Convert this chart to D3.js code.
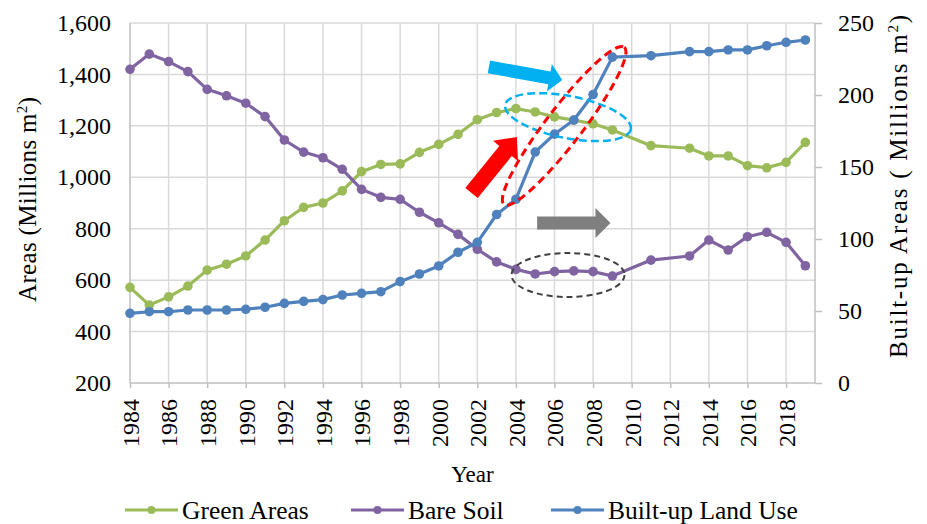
<!DOCTYPE html>
<html>
<head>
<meta charset="utf-8">
<script src="https://cdn.jsdelivr.net/npm/d3@7"></script>
<style>
  body { margin: 0; background: #fff; }
</style>
</head>
<body>
<div id="chart"></div>
<script>
// values
var years = [1984, 1985, 1986, 1987, 1988, 1989, 1990, 1991, 1992, 1993,
             1994, 1995, 1996, 1997, 1998, 1999, 2000, 2001, 2002, 2003,
             2004, 2005, 2006, 2007, 2008, 2009, 2011,
             2013, 2014, 2015, 2016, 2017, 2018, 2019];

var greenAreas = [572, 503, 535, 577, 639, 662, 694, 756, 831, 883,
                  900, 947, 1022, 1050, 1052, 1097, 1128, 1167, 1224, 1252,
                  1267, 1254, 1235, 1222, 1208, 1184, 1123,
                  1113, 1083, 1083, 1045, 1037, 1058, 1136];

var bareSoil = [1420, 1479, 1450, 1411, 1342, 1317, 1288, 1236, 1145, 1098,
                1076, 1031, 953, 922, 914, 864, 823, 778, 720, 671,
                642, 624, 633, 636, 633, 616, 678,
                694, 756, 717, 769, 786, 747, 656];

var builtUp = [48.4, 49.5, 49.5, 50.7, 50.7, 50.7, 51.2, 52.6, 55.3, 56.7,
               57.9, 61.1, 62.3, 63.4, 70.4, 75.7, 81.3, 90.8, 97.7, 117,
               127.6, 160.4, 172.8, 182.6, 200.3, 226.3, 227.3,
               230.1, 230.1, 231.3, 231.3, 234.2, 236.6, 238.2];

var leftTicks = [200, 400, 600, 800, 1000, 1200, 1400, 1600];
var rightTicks = [0, 50, 100, 150, 200, 250];
var yearTicks = d3.range(1984, 2019, 2);

var seriesNames = ["Green Areas", "Bare Soil", "Built-up Land Use"];
var seriesColors = ["#9bbb59", "#8064a2", "#4f81bd"];

var serif = "'Liberation Serif', 'Times New Roman', 'DejaVu Serif', serif";

var width = 927, height = 524;
var margin = {top: 23, right: 112, bottom: 141, left: 130};
var chartWidth = width - margin.left - margin.right;
var chartHeight = height - margin.top - margin.bottom;

var svg = d3.select("#chart").append("svg")
    .attr("width", width)
    .attr("height", height)
    .style("font-family", serif);

var g = svg.append("g")
    .attr("transform", `translate(${margin.left}, ${margin.top})`);

var xScale = d3.scaleLinear().domain([1984, 2019.5]).range([0, chartWidth]);
var yLeft = d3.scaleLinear().domain([200, 1600]).range([chartHeight, 0]);
var yRight = d3.scaleLinear().domain([0, 250]).range([chartHeight, 0]);

// grid
g.append("g").selectAll("line")
    .data(leftTicks.slice(1))
    .enter().append("line")
    .attr("x1", 0).attr("x2", chartWidth)
    .attr("y1", d => yLeft(d)).attr("y2", d => yLeft(d))
    .attr("stroke", "#d9d9d9").attr("stroke-width", 1.5);

g.append("g").selectAll("line")
    .data(yearTicks.slice(1))
    .enter().append("line")
    .attr("x1", d => xScale(d)).attr("x2", d => xScale(d))
    .attr("y1", 0).attr("y2", chartHeight)
    .attr("stroke", "#d9d9d9").attr("stroke-width", 1.5);

// axes
var xAxis = d3.axisBottom(xScale).tickValues(yearTicks).tickFormat(d3.format("d")).tickSize(5).tickPadding(0);
var xg = g.append("g")
    .attr("transform", `translate(0,${chartHeight})`)
    .call(xAxis);
xg.selectAll("text")
    .attr("transform", "rotate(-90)")
    .attr("text-anchor", "end")
    .attr("x", -16)
    .attr("y", 0)
    .attr("dy", "0.35em")
    .style("font-size", "24px");

var yAxisL = d3.axisLeft(yLeft).tickValues(leftTicks).tickFormat(d3.format(",")).tickSize(0).tickPadding(19);
var ylg = g.append("g").call(yAxisL);
ylg.selectAll("text").style("font-size", "24px");

var yAxisR = d3.axisRight(yRight).tickValues(rightTicks).tickSize(7).tickPadding(16);
var yrg = g.append("g")
    .attr("transform", `translate(${chartWidth},0)`)
    .call(yAxisR);
yrg.selectAll("text").style("font-size", "24px").attr("dy", "0.33em");

[xg, ylg, yrg].forEach(function(a) {
  a.attr("font-family", serif).attr("font-size", null);
  a.selectAll("text").style("font-family", serif).attr("fill", "#000");
  a.select(".domain").attr("stroke", "#bfbfbf").attr("stroke-width", 1.5);
  a.selectAll(".tick line").attr("stroke", "#bfbfbf").attr("stroke-width", 1.5);
});
xg.select(".domain").attr("d", `M0,0H${chartWidth}`);
ylg.select(".domain").attr("d", `M0,0V${chartHeight}`);
yrg.select(".domain").attr("d", `M0,0V${chartHeight}`);

// series
var series = [
  {name: seriesNames[0], values: greenAreas, y: yLeft, color: seriesColors[0]},
  {name: seriesNames[1], values: bareSoil, y: yLeft, color: seriesColors[1]},
  {name: seriesNames[2], values: builtUp, y: yRight, color: seriesColors[2]}
];

series.forEach(function(s) {
  var line = d3.line()
      .x((d, i) => xScale(years[i]))
      .y(d => s.y(d));
  g.append("path")
      .datum(s.values)
      .attr("fill", "none")
      .attr("stroke", s.color)
      .attr("stroke-width", 3.2)
      .attr("stroke-linejoin", "round")
      .attr("d", line);
  g.append("g").selectAll("circle")
      .data(s.values)
      .enter().append("circle")
      .attr("cx", (d, i) => xScale(years[i]))
      .attr("cy", d => s.y(d))
      .attr("r", 4.8)
      .attr("fill", s.color);
});

// annotations (placed in data units)
function blockArrow(tail, tip, shaft, head, headLen, color) {
  var x0 = xScale(tail[0]), y0 = yLeft(tail[1]);
  var x1 = xScale(tip[0]), y1 = yLeft(tip[1]);
  var len = Math.hypot(x1 - x0, y1 - y0);
  var ang = Math.atan2(y1 - y0, x1 - x0) * 180 / Math.PI;
  var pts = [[0, -shaft / 2], [len - headLen, -shaft / 2], [len - headLen, -head / 2],
             [len, 0], [len - headLen, head / 2], [len - headLen, shaft / 2], [0, shaft / 2]];
  g.append("polygon")
      .attr("points", pts.map(p => p.join(",")).join(" "))
      .attr("fill", color)
      .attr("transform", `translate(${x0},${y0}) rotate(${ang})`);
}

function dashedEllipse(center, rx, ry, rot, color, w, dash) {
  g.append("ellipse")
      .attr("cx", 0).attr("cy", 0)
      .attr("rx", rx).attr("ry", ry)
      .attr("fill", "none")
      .attr("stroke", color)
      .attr("stroke-width", w)
      .attr("stroke-dasharray", dash)
      .attr("transform", `translate(${xScale(center[0])},${yLeft(center[1])}) rotate(${rot})`);
}

dashedEllipse([2006.7, 1234], 64, 21, 11, "#00b0f0", 2.5, "8,4");
dashedEllipse([2006.5, 1200], 99, 18, -52.6, "#ff0000", 3, "8,5");
dashedEllipse([2006.7, 620], 56.5, 22, 0, "#404040", 2, "6,4");

blockArrow([2002.6, 1429], [2006.4, 1378], 13, 28, 13, "#00b0f0");
blockArrow([2001.7, 939], [2004.05, 1157], 16, 32, 18, "#ff0000");
blockArrow([2005.1, 822], [2008.9, 822], 13, 30, 15, "#7f7f7f");

// axis titles
function axisTitle(x, y, len, label) {
  var t = svg.append("text")
      .attr("transform", `translate(${x},${y}) rotate(-90)`)
      .attr("text-anchor", "middle")
      .attr("textLength", len)
      .attr("lengthAdjust", "spacing")
      .style("font-family", serif)
      .style("font-size", "25px");
  t.append("tspan").text(label);
  t.append("tspan").attr("dy", -9).style("font-size", "15px").text("2");
  t.append("tspan").attr("dy", 9).text(")");
}
axisTitle(36, 199.5, 205, "Areas (Millions m");
axisTitle(907, 186.5, 343, "Built-up Areas ( Millions m");

svg.append("text")
    .attr("x", margin.left + chartWidth / 2)
    .attr("y", 482)
    .attr("text-anchor", "middle")
    .style("font-family", serif)
    .style("font-size", "23px")
    .text("Year");

// legend
var legendX = [125, 351, 551];
var legend = svg.append("g").selectAll("g")
    .data(series)
    .enter().append("g")
    .attr("transform", (d, i) => `translate(${legendX[i]},510)`);
legend.append("line")
    .attr("x1", 0).attr("x2", 53)
    .attr("stroke", d => d.color)
    .attr("stroke-width", 3.2);
legend.append("circle")
    .attr("cx", 26.5).attr("r", 4)
    .attr("fill", d => d.color);
legend.append("text")
    .attr("x", 57)
    .attr("y", 8.5)
    .style("font-family", serif)
    .style("font-size", "25.5px")
    .text(d => d.name);
</script>
</body>
</html>
